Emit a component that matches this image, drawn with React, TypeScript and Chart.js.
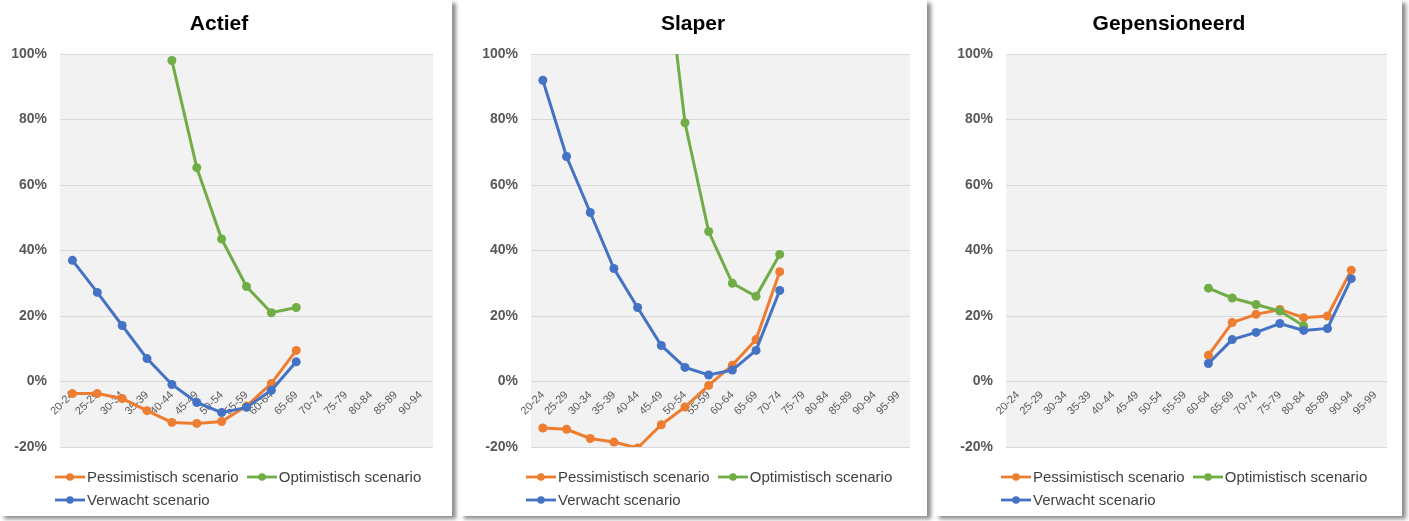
import React, { useEffect, useRef } from 'react';
import { Chart, registerables } from 'chart.js';

Chart.register(...registerables);

// Age bands on the x axis
const ageGroupsActief = ['20-24', '25-29', '30-34', '35-39', '40-44', '45-49', '50-54', '55-59', '60-64', '65-69', '70-74', '75-79', '80-84', '85-89', '90-94'];
const ageGroupsFull = ['20-24', '25-29', '30-34', '35-39', '40-44', '45-49', '50-54', '55-59', '60-64', '65-69', '70-74', '75-79', '80-84', '85-89', '90-94', '95-99'];

// Percentage ticks on the y axis
const yTicks = [-20, 0, 20, 40, 60, 80, 100];

// Actief
const actiefPessimistisch = [-3.7, -3.7, -5.2, -8.9, -12.5, -12.8, -12.2, -7.5, -0.6, 9.5, null, null, null, null, null];
const actiefOptimistisch = [null, null, null, null, 98, 65.3, 43.5, 29, 21, 22.6, null, null, null, null, null];
const actiefVerwacht = [37, 27.2, 17.1, 7, -0.9, -6.4, -9.5, -7.9, -2.7, 6, null, null, null, null, null];

// Slaper
const slaperPessimistisch = [-14.2, -14.6, -17.4, -18.5, -20.3, -13.2, -7.8, -1.2, 5, 12.8, 33.5, null, null, null, null, null];
const slaperOptimistisch = [null, null, null, null, null, 140, 79, 45.8, 30, 26, 38.8, null, null, null, null, null];
const slaperVerwacht = [92, 68.7, 51.6, 34.5, 22.6, 11, 4.3, 2, 3.5, 9.5, 27.8, null, null, null, null, null];

// Gepensioneerd
const gepensioneerdPessimistisch = [null, null, null, null, null, null, null, null, 8, 18, 20.5, 22, 19.5, 20, 34, null];
const gepensioneerdOptimistisch = [null, null, null, null, null, null, null, null, 28.5, 25.5, 23.5, 21.5, 17, null, null, null];
const gepensioneerdVerwacht = [null, null, null, null, null, null, null, null, 5.5, 12.8, 15, 17.7, 15.6, 16.2, 31.4, null];

const seriesNames = ['Pessimistisch scenario', 'Optimistisch scenario', 'Verwacht scenario'];
const seriesColors = ['#ED7D31', '#70AD47', '#4472C4'];

const FONT = "'Liberation Sans', Arial, sans-serif";
const CARD_HEIGHT = 516;
const PLOT_TOP = 54;
const PLOT_BOTTOM = 447;

const plotBackground = {
  id: 'plotBackground',
  beforeDraw(chart: any) {
    const { ctx, chartArea: a } = chart;
    ctx.save();
    ctx.fillStyle = '#F2F2F2';
    ctx.fillRect(a.left, a.top, a.right - a.left, a.bottom - a.top);
    ctx.restore();
  },
};

type PanelProps = {
  title: string;
  labels: string[];
  values: (number | null)[][];
  left: number;
  width: number;
  plotLeft: number;
  plotRight: number;
};

function Panel({ title, labels, values, left, width, plotLeft, plotRight }: PanelProps) {
  const canvasRef = useRef<HTMLCanvasElement | null>(null);
  const yAxisWidth = 55;

  useEffect(() => {
    if (!canvasRef.current) return;
    const datasets = values.map((data, i) => ({
      label: seriesNames[i],
      data,
      borderColor: seriesColors[i],
      backgroundColor: seriesColors[i],
      pointBackgroundColor: seriesColors[i],
      pointBorderColor: seriesColors[i],
      borderWidth: 3,
      pointRadius: 4.5,
      pointBorderWidth: 0,
      tension: 0,
      spanGaps: false,
      order: 2 - i,
    }));
    const chart = new Chart(canvasRef.current, {
      type: 'line',
      data: { labels, datasets },
      plugins: [plotBackground],
      options: {
        animation: false,
        responsive: false,
        maintainAspectRatio: false,
        devicePixelRatio: 1,
        layout: {
          padding: {
            left: plotLeft - yAxisWidth,
            right: width - plotRight,
            top: 0,
            bottom: CARD_HEIGHT - PLOT_BOTTOM,
          },
        },
        plugins: {
          legend: { display: false },
          tooltip: { enabled: false },
          title: {
            display: true,
            text: title,
            color: '#000000',
            font: { family: FONT, size: 21, weight: 'bold', lineHeight: 1.2 },
            padding: { top: 12, bottom: PLOT_TOP - 12 - 25.2 },
          },
        },
        scales: {
          x: {
            type: 'category',
            offset: true,
            position: { y: 0 } as any,
            grid: { display: false, drawTicks: false },
            border: { display: false },
            ticks: {
              autoSkip: false,
              minRotation: 45,
              maxRotation: 45,
              padding: 7,
              color: '#595959',
              font: { family: FONT, size: 11 },
            },
          },
          y: {
            min: -20,
            max: 100,
            afterFit: (s: any) => {
              s.width = yAxisWidth;
            },
            afterBuildTicks: (s: any) => {
              s.ticks = yTicks.map((v) => ({ value: v }));
            },
            grid: { color: '#D9D9D9', lineWidth: 1, drawTicks: false },
            border: { display: false },
            ticks: {
              padding: 13,
              color: '#595959',
              font: { family: FONT, size: 14, weight: 'bold' },
              callback: (v: any) => `${v}%`,
            },
          },
        },
      },
    });
    return () => chart.destroy();
  }, []);

  return (
    <div
      style={{
        position: 'absolute',
        left,
        top: 0,
        width,
        height: CARD_HEIGHT,
        background: '#FFFFFF',
        boxShadow: '4px 3px 4px rgba(0,0,0,0.45)',
      }}
    >
      <canvas ref={canvasRef} width={width} height={CARD_HEIGHT} style={{ display: 'block', width, height: CARD_HEIGHT }} />
      <div
        style={{
          position: 'absolute',
          left: plotLeft - 5,
          top: 465,
          width: 390,
          display: 'flex',
          flexWrap: 'wrap',
          columnGap: 8,
          fontFamily: FONT,
          fontSize: 15,
          color: '#404040',
        }}
      >
        {seriesNames.map((name, i) => (
          <div key={name} style={{ display: 'flex', alignItems: 'center', height: 23, whiteSpace: 'nowrap' }}>
            <svg width={30} height={10} style={{ marginRight: 2 }}>
              <line x1={0} y1={5} x2={30} y2={5} stroke={seriesColors[i]} strokeWidth={2.8} />
              <circle cx={15} cy={5} r={3.8} fill={seriesColors[i]} />
            </svg>
            <span>{name}</span>
          </div>
        ))}
      </div>
    </div>
  );
}

export default function App() {
  return (
    <div style={{ position: 'absolute', left: 0, top: 0, width: 1409, height: 521, background: '#FFFFFF', overflow: 'hidden' }}>
      <Panel
        title="Actief"
        labels={ageGroupsActief}
        values={[actiefPessimistisch, actiefOptimistisch, actiefVerwacht]}
        left={0}
        width={452}
        plotLeft={60}
        plotRight={433}
      />
      <Panel
        title="Slaper"
        labels={ageGroupsFull}
        values={[slaperPessimistisch, slaperOptimistisch, slaperVerwacht]}
        left={460}
        width={467}
        plotLeft={71}
        plotRight={450}
      />
      <Panel
        title="Gepensioneerd"
        labels={ageGroupsFull}
        values={[gepensioneerdPessimistisch, gepensioneerdOptimistisch, gepensioneerdVerwacht]}
        left={935}
        width={467}
        plotLeft={71}
        plotRight={452}
      />
    </div>
  );
}
